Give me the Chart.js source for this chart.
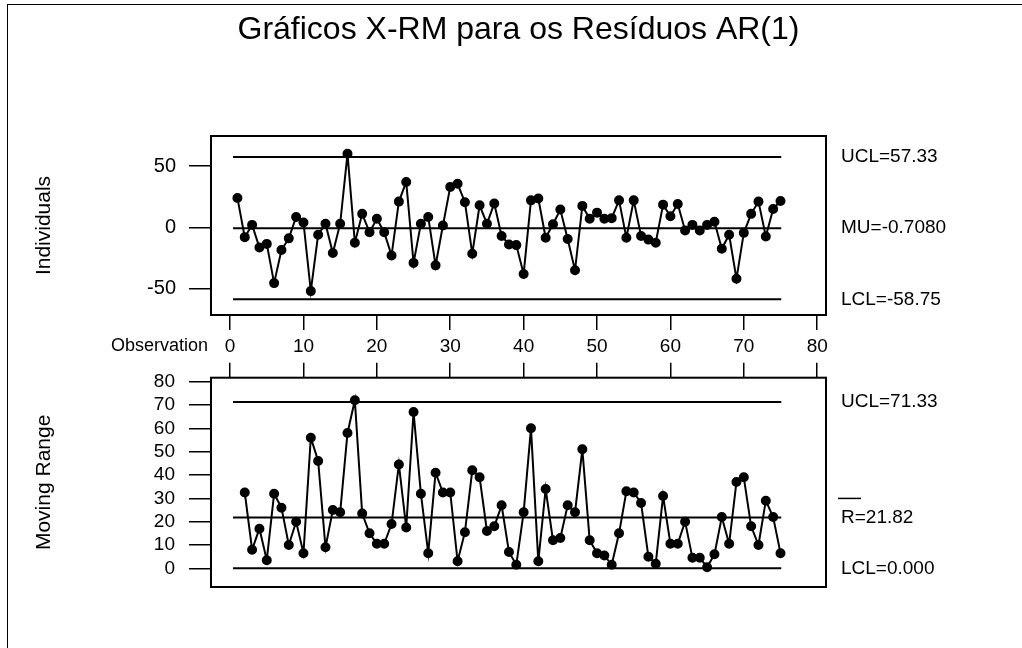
<!DOCTYPE html>
<html>
<head>
<meta charset="utf-8">
<script src="https://cdn.jsdelivr.net/npm/chart.js@4.4.1/dist/chart.umd.min.js"></script>
<style>
  html, body { margin: 0; padding: 0; background: #fff; }
  #page { position: relative; width: 1022px; height: 648px; overflow: hidden; }
  #page canvas { position: absolute; left: 0; top: 0; }
  #frame { position: absolute; left: 7px; top: 4px; right: -4px; bottom: -4px; border-left: 1.5px solid #000; border-top: 1.5px solid #000; }
</style>
</head>
<body>
<div id="page">
  <div id="frame"></div>
  <canvas id="indChart" width="1022" height="648"></canvas>
  <canvas id="mrChart" width="1022" height="648"></canvas>
</div>
<script>
// valores (observacoes 1..75)
const individuals = [24, -8, 2, -16.5, -13.5, -45.5, -18.5, -9, 8.5, 4,
  -52, -6, 3, -21, 3, 60, -12.5, 11, -4, 7,
  -4, -23, 21, 37, -29, 3, 8.5, -31, 1.5, 33,
  35.5, 20.5, -21.5, 18, 3, 19.5, -7, -14, -14.5, -38,
  22, 23.5, -8.5, 2.5, 14.5, -9.5, -35, 17.5, 7, 12,
  7, 7.5, 22, -8.5, 22, -7, -10, -12.5, 18.5, 9,
  19, -2.5, 2, -2.5, 2, 4.5, -17.5, -6, -42, -4.5,
  11, 21, -7.5, 15, 21.5];

// amplitude movel (observacoes 2..75)
const movingRange = [32.5, 8, 17, 3.5, 32, 26, 10, 20, 6.5, 56,
  46, 9, 25, 24, 58, 72, 23.5, 15, 10.5, 10.5,
  19, 44.5, 17.5, 67, 32, 6.5, 41, 32.5, 32.5, 3,
  15.5, 42, 39, 16, 18, 27, 7, 1.5, 24, 60,
  3, 34, 12, 13, 27, 24, 51, 12, 6.5, 5.5,
  1.5, 15, 33, 32.5, 28, 5, 2, 31, 10.5, 10.5,
  20, 4.5, 4.5, 0.5, 6, 22, 10.5, 37, 39, 18,
  10, 29, 22, 6.5];

const indLimits = [57.33, -0.708, -58.75];
const indLabels = ['UCL=57.33', 'MU=-0.7080', 'LCL=-58.75'];
const mrLimits = [71.33, 21.82, 0];
const mrLabels = ['UCL=71.33', 'R=21.82', 'LCL=0.000'];
const limitSpan = [0.4, 75.1];

const obsTicks = [0, 10, 20, 30, 40, 50, 60, 70, 80];
const indTicks = [-50, 0, 50];
const mrTicks = [0, 10, 20, 30, 40, 50, 60, 70, 80];

const FONT = '"Liberation Sans", Arial, sans-serif';
Chart.defaults.font.family = FONT;
Chart.defaults.color = '#000';

const limitSets = (limits) => limits.map(v => ({
    data: limitSpan.map(x => ({ x, y: v })),
    borderColor: '#000', borderWidth: 2, pointRadius: 0, order: 2
}));

const seriesSet = (pts) => ({
    data: pts, borderColor: '#000', borderWidth: 2,
    pointRadius: 4, pointBackgroundColor: '#000', pointBorderColor: '#000', order: 1
});

const setTicks = (list) => (s) => { s.ticks = list.map(v => ({ value: v })); };

// moldura + rotulos dos limites a direita
const decor = (labels, limits, overbar) => ({
    id: 'decor',
    afterDraw(chart) {
        const { ctx, chartArea: a, scales: { y } } = chart;
        ctx.save();
        ctx.strokeStyle = '#000';
        ctx.lineWidth = 2;
        ctx.strokeRect(a.left, a.top, a.right - a.left, a.bottom - a.top);
        ctx.fillStyle = '#000';
        ctx.font = '19px ' + FONT;
        ctx.textBaseline = 'middle';
        labels.forEach((t, i) => {
            const py = y.getPixelForValue(limits[i]);
            ctx.fillText(t, a.right + 15, py);
            if (i === overbar) {
                ctx.lineWidth = 1.5;
                ctx.beginPath();
                ctx.moveTo(a.right + 12, py - 19);
                ctx.lineTo(a.right + 35, py - 19);
                ctx.stroke();
            }
        });
        ctx.restore();
    }
});

const obsLabel = {
    id: 'obsLabel',
    afterDraw(chart) {
        const { ctx } = chart;
        ctx.save();
        ctx.fillStyle = '#000';
        ctx.font = '18px ' + FONT;
        ctx.textAlign = 'right';
        ctx.textBaseline = 'middle';
        ctx.fillText('Observation', 208, 346);
        ctx.restore();
    }
};

const baseGrid = (len) => ({ drawOnChartArea: false, tickLength: len, color: '#000', lineWidth: 1.5 });

new Chart(document.getElementById('indChart'), {
    type: 'line',
    data: { datasets: [...limitSets(indLimits), seriesSet(individuals.map((v, i) => ({ x: i + 1, y: v })))] },
    options: {
        responsive: false, animation: false, events: [],
        layout: { padding: { left: 0, right: 196, top: 0, bottom: 283 }, autoPadding: false },
        plugins: {
            legend: { display: false }, tooltip: { enabled: false },
            title: {
                display: true, text: 'Gráficos X-RM para os Resíduos AR(1)', fullSize: false,
                color: '#000', font: { size: 32, weight: 'normal' }, padding: { top: 11, bottom: 86.6 }
            }
        },
        scales: {
            x: {
                type: 'linear', position: 'bottom', min: -2.6, max: 81.2,
                afterBuildTicks: setTicks(obsTicks), afterFit: s => { s.height = 50; },
                grid: baseGrid(15), border: { display: false },
                ticks: { color: '#000', font: { size: 19 }, padding: 5, maxRotation: 0, autoSkip: false }
            },
            y: {
                min: -71.5, max: 74.5,
                afterBuildTicks: setTicks(indTicks), afterFit: s => { s.width = 211; },
                grid: baseGrid(22), border: { display: false },
                ticks: { color: '#000', font: { size: 20 }, padding: 13, autoSkip: false },
                title: { display: true, text: 'Individuals', color: '#000', font: { size: 21 }, padding: { top: 32 } }
            }
        }
    },
    plugins: [decor(indLabels, indLimits, -1), obsLabel]
});

new Chart(document.getElementById('mrChart'), {
    type: 'line',
    data: { datasets: [...limitSets(mrLimits), seriesSet(movingRange.map((v, i) => ({ x: i + 2, y: v })))] },
    options: {
        responsive: false, animation: false, events: [],
        layout: { padding: { left: 0, right: 196, top: 362.7, bottom: 61 }, autoPadding: false },
        plugins: { legend: { display: false }, tooltip: { enabled: false } },
        scales: {
            x: {
                type: 'linear', position: 'top', min: -2.6, max: 81.2,
                afterBuildTicks: setTicks(obsTicks), afterFit: s => { s.height = 15; },
                grid: baseGrid(15), border: { display: false },
                ticks: { display: false }
            },
            y: {
                min: -8, max: 81.7,
                afterBuildTicks: setTicks(mrTicks), afterFit: s => { s.width = 211; },
                grid: baseGrid(22), border: { display: false },
                ticks: { color: '#000', font: { size: 19 }, padding: 14, autoSkip: false },
                title: { display: true, text: 'Moving Range', color: '#000', font: { size: 21 }, padding: { top: 32 } }
            }
        }
    },
    plugins: [decor(mrLabels, mrLimits, 1)]
});
</script>
</body>
</html>
